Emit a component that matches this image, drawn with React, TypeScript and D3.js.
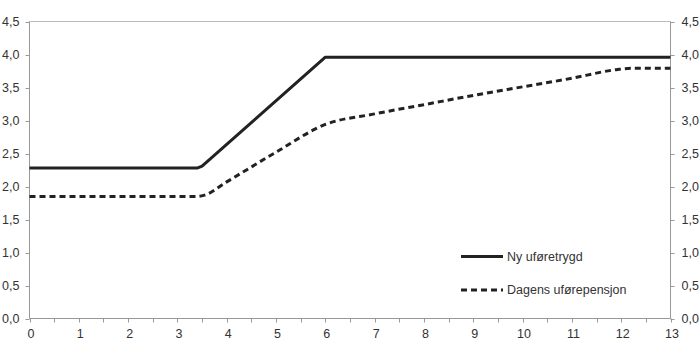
import React from "react";
import * as d3 from "d3";

const yTicks = [0, 0.5, 1, 1.5, 2, 2.5, 3, 3.5, 4, 4.5];
const xTicks = [0, 1, 2, 3, 4, 5, 6, 7, 8, 9, 10, 11, 12, 13];

const nyX = [0, 3.4, 3.5, 6, 13];
const nyY = [2.28, 2.28, 2.31, 3.96, 3.96];

const dagX = [0, 3.4, 3.55, 4, 5, 6, 7, 8, 9, 10, 11, 11.9, 12.2, 13];
const dagY = [1.85, 1.85, 1.87, 2.07, 2.52, 2.94, 3.1, 3.24, 3.38, 3.51, 3.64, 3.77, 3.79, 3.79];

const seriesNames = ["Ny uføretrygd", "Dagens uførepensjon"];

const W = 700, H = 357;
const M = { left: 29.5, right: 670.5, top: 21.5, bottom: 318.5 };

export default function App() {
  const x = d3.scaleLinear().domain([0, 13]).range([M.left, M.right]);
  const y = d3.scaleLinear().domain([0, 4.5]).range([M.bottom, M.top]);
  const fmt = (v: number) => v.toFixed(1).replace(".", ",");
  const lineNy = d3.line<number>().x((_, i) => x(nyX[i])).y((d) => y(d));
  const lineDag = d3
    .line<number>()
    .x((_, i) => x(dagX[i]))
    .y((d) => y(d))
    .curve(d3.curveMonotoneX);
  const minor = d3.range(0, 13.01, 0.5);
  const axisColor = "#999";
  const textColor = "#333";
  const font = "Liberation Sans, Arial, sans-serif";
  const fs = 12.5;
  return (
    <svg width={W} height={H} style={{ position: "absolute", left: 0, top: 0 }}>
      <rect width={W} height={H} fill="#fff" />
      <line x1={M.left} x2={M.right} y1={M.top} y2={M.top} stroke="#bbb" strokeWidth={1} />
      <line x1={M.left} x2={M.left} y1={M.top} y2={M.bottom} stroke={axisColor} />
      <line x1={M.right} x2={M.right} y1={M.top} y2={M.bottom} stroke={axisColor} />
      <line x1={M.left} x2={M.right} y1={M.bottom} y2={M.bottom} stroke={axisColor} />
      {yTicks.map((t) => (
        <g key={"y" + t}>
          <line x1={M.left - 4} x2={M.left} y1={Math.round(y(t)) + 0.5} y2={Math.round(y(t)) + 0.5} stroke={axisColor} />
          <line x1={M.right} x2={M.right + 4} y1={Math.round(y(t)) + 0.5} y2={Math.round(y(t)) + 0.5} stroke={axisColor} />
          <text x={M.left - 10} y={y(t)} dy="0.35em" textAnchor="end" fontFamily={font} fontSize={fs} fill={textColor}>
            {fmt(t)}
          </text>
          <text x={M.right + 11} y={y(t)} dy="0.35em" textAnchor="start" fontFamily={font} fontSize={fs} fill={textColor}>
            {fmt(t)}
          </text>
        </g>
      ))}
      {minor.map((t) => (
        <line key={"m" + t} x1={Math.round(x(t)) + 0.5} x2={Math.round(x(t)) + 0.5} y1={M.bottom} y2={M.bottom + 4} stroke={axisColor} />
      ))}
      {xTicks.map((t) => (
        <text key={"x" + t} x={x(t) + 1.5} y={333.5} dy="0.35em" textAnchor="middle" fontFamily={font} fontSize={fs} fill={textColor}>
          {t}
        </text>
      ))}
      <path d={lineDag(dagY) || ""} fill="none" stroke="#222" strokeWidth={3} strokeDasharray="6,4" />
      <path d={lineNy(nyY) || ""} fill="none" stroke="#222" strokeWidth={3} strokeLinejoin="round" />
      <line x1={461} x2={503} y1={256.5} y2={256.5} stroke="#222" strokeWidth={3} />
      <text x={507} y={256.5} dy="0.35em" fontFamily={font} fontSize={fs} fill={textColor}>
        {seriesNames[0]}
      </text>
      <line x1={461} x2={503} y1={290} y2={290} stroke="#222" strokeWidth={3} strokeDasharray="6,4" />
      <text x={507} y={290} dy="0.35em" fontFamily={font} fontSize={fs} fill={textColor}>
        {seriesNames[1]}
      </text>
    </svg>
  );
}
